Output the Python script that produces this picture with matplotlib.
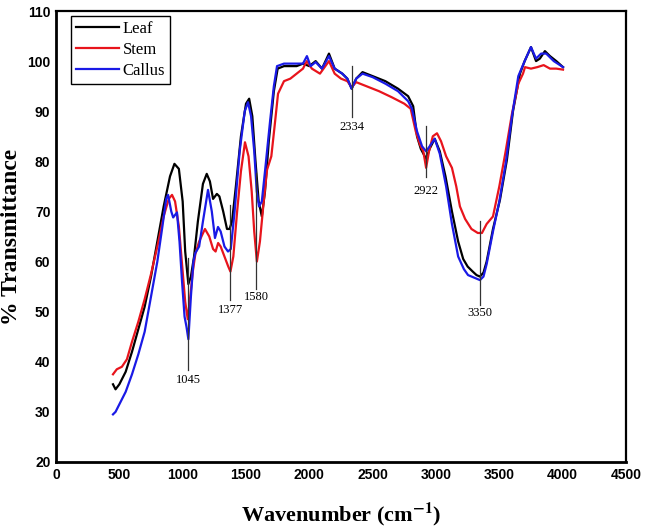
import matplotlib
matplotlib.use("Agg")
import matplotlib.pyplot as plt

plt.rcParams['font.family'] = ['Liberation Serif', 'DejaVu Serif']
plt.rcParams['mathtext.fontset'] = 'stix'

# --- data ---
leaf_wn = [450, 470, 500, 550, 600, 650, 700, 750, 800, 850, 900, 935, 970, 1000,
           1020, 1045, 1065, 1090, 1120, 1160, 1190, 1215, 1240, 1270, 1290, 1320,
           1350, 1370, 1390, 1420, 1460, 1500, 1525, 1550, 1575, 1600, 1625, 1650,
           1680, 1720, 1750, 1800, 1900, 1950, 2000, 2050, 2100, 2155, 2200, 2260,
           2300, 2334, 2370, 2420, 2500, 2600, 2700, 2780, 2820, 2850, 2880, 2922,
           2950, 2990, 3030, 3075, 3126, 3175, 3215, 3250, 3290, 3320, 3347, 3375,
           3400, 3450, 3505, 3560, 3608, 3663, 3700, 3750, 3790, 3820, 3860, 3900,
           3950, 4003]
leaf_t = [35.5, 34.5, 35.5, 38, 42, 46.5, 51, 57, 64, 71, 77, 79.5, 78.5, 72,
          62, 55.5, 57, 61, 68, 75.5, 77.5, 76, 72.5, 73.5, 73, 70,
          66.5, 66.5, 68, 75, 85, 91.5, 92.5, 89, 80, 72, 69, 74,
          84, 94, 98.5, 99, 99, 99.5, 99, 100, 98.5, 101.5, 98.5, 97.5,
          96.5, 94.5, 96.5, 97.8, 97, 96, 94.5, 93, 91, 85, 82.5, 80.5,
          82.5, 84.5, 82, 77, 70, 64, 60.5, 59, 58, 57.3, 57, 57.8,
          60, 66.5, 72.3, 80.3, 90, 97.5, 100, 102.8, 100, 100.5, 102, 101,
          100, 98.8]

stem_wn = [450, 480, 520, 560, 600, 650, 700, 750, 800, 850, 890, 916, 940, 970,
           1000, 1020, 1040, 1060, 1080, 1100, 1130, 1176, 1210, 1240, 1260, 1280,
           1300, 1330, 1360, 1377, 1400, 1430, 1460, 1492, 1520, 1545, 1565, 1586,
           1610, 1640, 1666, 1700, 1730, 1753, 1800, 1850, 1900, 1950, 1980, 2020,
           2084, 2155, 2200, 2250, 2300, 2334, 2370, 2450, 2550, 2650, 2750, 2800,
           2840, 2874, 2900, 2922, 2945, 2975, 3008, 3040, 3080, 3126, 3160, 3189,
           3230, 3280, 3330, 3363, 3400, 3450, 3500, 3550, 3600, 3650, 3687, 3703,
           3750, 3800, 3850, 3900, 3950, 4003]
stem_t = [37.5, 38.5, 39, 40.5, 44, 48, 52.5, 57.5, 63, 69, 72.5, 73.3, 72, 67,
          58, 52, 48.5, 53, 58, 61.5, 64, 66.5, 65, 62.5, 62, 63.7,
          63, 61, 59, 58, 61, 70, 78, 83.8, 81, 74, 66, 60,
          64, 72, 78.3, 81, 88, 93.5, 96, 96.5, 97.5, 98.5, 100, 98.5,
          97.5, 100, 97.5, 96.5, 96, 94.8, 95.8, 95, 94, 92.8, 91.5, 90.5,
          86, 83.3, 82, 78.7, 82, 85, 85.6, 84, 81, 78.7, 75, 71,
          68.5, 66.5, 65.7, 65.7, 67.5, 69, 75, 82, 89.5, 95.5, 97.5, 98.8,
          98.5, 98.8, 99.2, 98.5, 98.5, 98.3]

callus_wn = [450, 470, 500, 550, 600, 650, 700, 750, 800, 840, 870, 885, 910, 925,
             955, 975, 995, 1015, 1030, 1045, 1065, 1085, 1100, 1130, 1160, 1200,
             1230, 1255, 1279, 1300, 1330, 1358, 1380, 1410, 1450, 1490, 1516, 1540,
             1565, 1585, 1603, 1625, 1650, 1690, 1720, 1745, 1800, 1900, 1950, 1981,
             2010, 2050, 2100, 2155, 2200, 2260, 2300, 2334, 2370, 2420, 2500, 2600,
             2700, 2780, 2810, 2850, 2890, 2922, 2950, 2990, 3030, 3080, 3126, 3175,
             3220, 3253, 3300, 3347, 3375, 3400, 3450, 3500, 3550, 3600, 3650, 3700,
             3750, 3790, 3830, 3870, 3930, 4003]
callus_t = [29.5, 30, 31.5, 34, 37.5, 41.5, 46, 53, 60, 67, 72.5, 73.3, 70, 68.8,
            69.8, 64, 56, 49, 47, 44.5, 53, 60, 61.7, 63, 68, 74.3,
            70, 64.7, 66.9, 66, 63, 62, 62.5, 70, 82, 90, 91.8, 89,
            82, 74, 71, 72, 78, 88, 95, 99, 99.5, 99.5, 99.5, 101,
            99, 99.8, 98.5, 101, 98.5, 97.5, 96.5, 94.5, 96.5, 97.5, 96.8, 95.5,
            94, 92, 90.5, 86, 83, 82, 83, 84.5, 81.5, 75, 67.5, 61,
            58.5, 57.3, 56.8, 56.3, 57, 59.5, 66, 72, 79.5, 89, 97, 100,
            102.8, 100.5, 101.5, 101.5, 100, 98.8]

# peak markers: (label, line top, line bottom, label y)
peaks = [(1045, 60.7, 38.3, 37.6),
         (1377, 71.3, 52.3, 51.5),
         (1580, 77.7, 54.5, 54.2),
         (2334, 99.0, 88.8, 88.0),
         (2922, 87.0, 76.9, 75.3),
         (3350, 68.0, 51.3, 51.0)]

fig = plt.figure(figsize=(6.46, 5.29), dpi=100)
ax = fig.add_axes([0.0867, 0.1267, 0.8823, 0.8525])

ax.plot(leaf_wn, leaf_t, color='black', lw=1.6, label='Leaf')
ax.plot(stem_wn, stem_t, color='#e8141c', lw=1.6, label='Stem')
ax.plot(callus_wn, callus_t, color='#1a1ae6', lw=1.6, label='Callus')

for wn, top, bot, ty in peaks:
    ax.plot([wn, wn], [top, bot], color='#333333', lw=0.9)
    ax.text(wn, ty, str(wn), ha='center', va='top', fontsize=9,
            family='Liberation Serif')

ax.set_xlim(0, 4500)
ax.set_ylim(20, 110)
ax.set_xticks(range(0, 4501, 500))
ax.set_yticks(range(20, 111, 10))
ax.tick_params(length=0, pad=4)
for lab in ax.get_xticklabels() + ax.get_yticklabels():
    lab.set_family('Liberation Sans')
    lab.set_fontweight('bold')
    lab.set_fontsize(10)

for side in ['left', 'bottom']:
    ax.spines[side].set_linewidth(2)
for side in ['top', 'right']:
    ax.spines[side].set_linewidth(1.6)

ax.set_xlabel(r'Wavenumber (cm$^{\mathbf{-1}}$)', fontsize=16, fontweight='bold',
              labelpad=14)
ax.set_ylabel('% Transmittance', fontsize=17, fontweight='bold', labelpad=4)

leg = ax.legend(loc='upper left', bbox_to_anchor=(0.026, 0.99), fontsize=12,
                fancybox=False, edgecolor='black', framealpha=1,
                handlelength=2.6, handletextpad=0.2, borderpad=0.3,
                labelspacing=0.3, borderaxespad=0)
leg.get_frame().set_linewidth(1)

fig.savefig('out.png', dpi=100)
